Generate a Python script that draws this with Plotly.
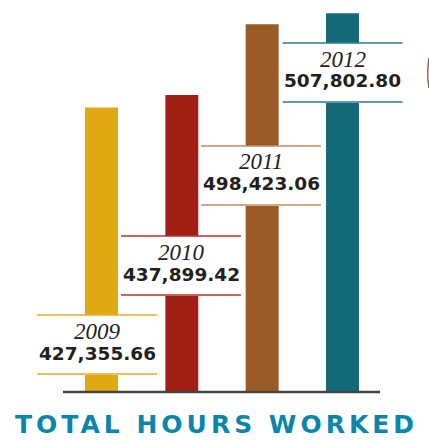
import plotly.graph_objects as go

# Annual totals
years = ["2009", "2010", "2011", "2012"]
hours = [427355.66, 437899.42, 498423.06, 507802.80]
value_labels = ["427,355.66", "437,899.42", "498,423.06", "507,802.80"]

bar_colors = ["#E0A913", "#A11F15", "#9B5B27", "#136A79"]
rule_colors = ["#E3AC24", "#B0342B", "#C28C60", "#2B7D8F"]

W, H = 429, 441
BASELINE_PX = 392          # pixel row of the baseline
PX_PER_HOUR = 1.1722 / 1000
AXIS_FLOOR = 184600        # value sitting on the baseline

# y range so that AXIS_FLOOR lands on the baseline row
y_lo = AXIS_FLOOR - (H - BASELINE_PX) / PX_PER_HOUR
y_hi = AXIS_FLOOR + BASELINE_PX / PX_PER_HOUR

# x range: bars centred ~80 px apart, first centre at ~101 px
step_px = 80.33
x_lo = -101.5 / step_px
x_hi = x_lo + W / step_px

# label cards: centre x (px), top rule (px)
card_cx = [97, 181, 261, 342.5]
card_top = [315, 236, 146, 43]
CARD_W, CARD_H = 120, 60


def px(x):
    return x / W


def py(y):
    return 1 - y / H


fig = go.Figure()
fig.add_trace(go.Bar(
    x=list(range(len(years))),
    y=[v - AXIS_FLOOR for v in hours],
    base=AXIS_FLOOR,
    width=0.41,
    marker=dict(color=bar_colors, line=dict(width=0)),
    hoverinfo="skip",
))

shapes = []
annotations = []
for i, yr in enumerate(years):
    cx, top = card_cx[i], card_top[i]
    x0, x1 = px(cx - CARD_W / 2), px(cx + CARD_W / 2)
    shapes.append(dict(type="rect", xref="paper", yref="paper",
                       x0=x0, x1=x1, y0=py(top + CARD_H), y1=py(top),
                       fillcolor="white", line=dict(width=0), layer="above"))
    for yy in (top, top + CARD_H - 1):
        shapes.append(dict(type="line", xref="paper", yref="paper",
                           x0=x0, x1=x1, y0=py(yy), y1=py(yy),
                           line=dict(color=rule_colors[i], width=1.6), layer="above"))
    annotations.append(dict(xref="paper", yref="paper", x=px(cx), y=py(top + 16),
                            text=yr, showarrow=False, xanchor="center", yanchor="middle",
                            font=dict(family="Liberation Serif", size=23, style="italic",
                                      color="#231F20")))
    annotations.append(dict(xref="paper", yref="paper", x=px(cx), y=py(top + 38),
                            text=value_labels[i], showarrow=False, xanchor="center",
                            yanchor="middle",
                            font=dict(family="DejaVu Sans", size=18.5, weight="bold",
                                      color="#231F20")))

# baseline
shapes.append(dict(type="line", xref="paper", yref="paper",
                   x0=px(63), x1=px(380), y0=py(BASELINE_PX), y1=py(BASELINE_PX),
                   line=dict(color="#444444", width=2.5), layer="above"))
# sliver of a neighbouring ornament at the right edge
shapes.append(dict(type="path", xref="paper", yref="paper",
                   path=f"M {px(429)} {py(58)} Q {px(426.5)} {py(73)} {px(429)} {py(88)}",
                   line=dict(color="#A8652E", width=1.5)))

annotations.append(dict(xref="paper", yref="paper", x=px(216), y=py(424),
                        text="TOTAL HOURS WORKED", showarrow=False,
                        xanchor="center", yanchor="middle",
                        font=dict(family="DejaVu Sans", size=25, weight="bold",
                                  color="#0A85AB")))

fig.update_layout(
    width=W, height=H,
    margin=dict(l=0, r=0, t=0, b=0),
    paper_bgcolor="white", plot_bgcolor="white",
    showlegend=False,
    xaxis=dict(range=[x_lo, x_hi], visible=False, fixedrange=True),
    yaxis=dict(range=[y_lo, y_hi], visible=False, fixedrange=True),
    shapes=shapes,
    annotations=annotations,
)

# widen the tracking of the heading
post = """
document.querySelectorAll('.annotation-text').forEach(function (t) {
  if (t.textContent.indexOf('TOTAL') === 0) { t.style.letterSpacing = '4px'; }
});
"""

fig.write_html("out.html", config={"displayModeBar": False, "staticPlot": True},
               post_script=post)
